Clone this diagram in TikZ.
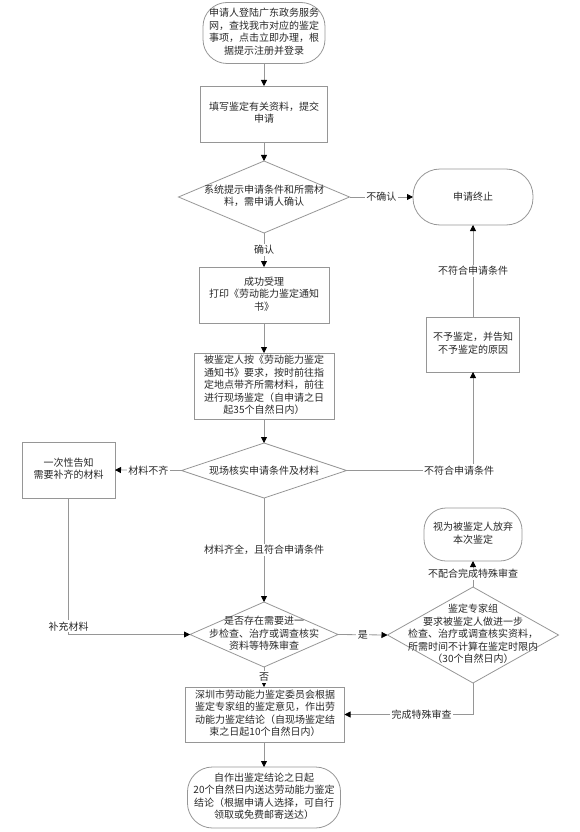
\documentclass[tikz,border=0pt]{standalone}
\usepackage{fontspec}
\setmainfont{Noto Sans CJK SC}
\usepackage{tikz}
\usetikzlibrary{shapes.geometric,arrows.meta}
\usepackage{xcolor}

\definecolor{linegray}{RGB}{150,150,150}
\definecolor{textgray}{RGB}{40,40,40}

\tikzset{
	box/.style={draw=linegray,line width=0.8pt,rectangle,inner sep=0pt,outer sep=0pt,text=textgray},
	term/.style={box,rounded corners=#1},
	term/.default=24pt,
	dia/.style={draw=linegray,line width=0.8pt,diamond,inner sep=0pt,outer sep=0pt},
	dtext/.style={text=textgray,inner sep=0pt},
	arr/.style={draw=linegray,line width=0.8pt,-{Triangle[length=6pt,width=6pt,color=black]}},
	conn/.style={draw=linegray,line width=0.8pt},
	lab/.style={fill=white,inner sep=1.5pt,text=textgray},
	every node/.append style={font=\fontsize{10}{12.5}\selectfont}
}

\begin{document}
\begin{tikzpicture}[x=1pt,y=-1pt]
		\useasboundingbox (0,0) rectangle (580,832);
		
		\node[term,minimum width=121pt,minimum height=61pt] (start) at (264,33){\begin{tabular}{c}申请人登陆广东政务服务\\网，查找我市对应的鉴定\\事项，点击立即办理，根\\据提示注册并登录\end{tabular}};
		
		\node[box,minimum width=127pt,minimum height=56pt] (fill) at (264,114){\begin{tabular}{c}填写鉴定有关资料，提交\\申请\end{tabular}};
		
		\node[dia,minimum width=171pt,minimum height=72pt,label={[dtext]center:{\begin{tabular}{c}系统提示申请条件和所需材\\料，需申请人确认\end{tabular}}}] (check) at (264,197){};
		
		\node[term=27pt,minimum width=120pt,minimum height=56pt] (stop) at (473,197){申请终止};
		
		\node[box,minimum width=130pt,minimum height=56pt] (accept) at (264,295){\begin{tabular}{c}成功受理\\打印《劳动能力鉴定通知\\书》\end{tabular}};
		
		\node[box,minimum width=140pt,minimum height=66pt] (visit) at (264,386){\begin{tabular}{c}被鉴定人按《劳动能力鉴定\\通知书》要求，按时前往指\\定地点带齐所需材料，前往\\进行现场鉴定（自申请之日\\起35个自然日内）\end{tabular}};
		
		\node[box,minimum width=93pt,minimum height=55pt] (refuse) at (473,344.5){\begin{tabular}{c}不予鉴定，并告知\\不予鉴定的原因\end{tabular}};
		
		\node[dia,minimum width=165pt,minimum height=55pt,label={[dtext]center:{现场核实申请条件及材料}}] (site) at (264,470.5){};
		
		\node[box,minimum width=93pt,minimum height=56pt] (notice) at (68.5,470){\begin{tabular}{c}一次性告知\\需要补齐的材料\end{tabular}};
		
		\node[term=22pt,minimum width=98pt,minimum height=53pt] (giveup) at (473,534.5){\begin{tabular}{c}视为被鉴定人放弃\\本次鉴定\end{tabular}};
		
		\node[dia,minimum width=148pt,minimum height=65pt,label={[dtext]center:{\begin{tabular}{c}是否存在需要进一\\步检查、治疗或调查核实\\资料等特殊审查\end{tabular}}}] (special) at (264,634.5){};
		
		\node[dia,minimum width=171pt,minimum height=96pt,label={[dtext]center:{\begin{tabular}{c}鉴定专家组\\要求被鉴定人做进一步\\检查、治疗或调查核实资料，\\所需时间不计算在鉴定时限内\\（30个自然日内）\end{tabular}}}] (expert) at (473,635){};
		
		\node[box,minimum width=159pt,minimum height=55pt] (result) at (265,714.5){\begin{tabular}{c}深圳市劳动能力鉴定委员会根据\\鉴定专家组的鉴定意见，作出劳\\动能力鉴定结论（自现场鉴定结\\束之日起10个自然日内）\end{tabular}};
		
		\node[term=25pt,minimum width=153pt,minimum height=61pt] (deliver) at (264,797.5){\begin{tabular}{c}自作出鉴定结论之日起\\20个自然日内送达劳动能力鉴定\\结论（根据申请人选择，可自行\\领取或免费邮寄送达）\end{tabular}};
		
		\draw[arr] (start) -- (fill);
		\draw[arr] (fill) -- (check);
		\draw[arr] (check.east) -- node[lab]{不确认} (stop.west);
		\draw[arr] (check.south) -- node[lab]{确认} (accept.north);
		\draw[arr] (accept) -- (visit);
		\draw[arr] (visit.south) -- (site.north);
		\draw[arr] (refuse.north) -- node[lab]{不符合申请条件} (stop.south);
		\draw[arr] (site.east) -| node[lab,pos=0.5,xshift=-14pt]{不符合申请条件} (refuse.south);
		\draw[arr] (site.west) -- node[lab]{材料不齐} (notice.east);
		\draw[arr] (site.south) -- node[lab]{材料齐全，且符合申请条件} (special.north);
		\draw[arr] (notice.south) |- node[lab,pos=0.47]{补充材料} (special.west);
		\draw[arr] (special.east) -- node[lab]{是} (expert.west);
		\draw[arr] (expert.north) -- node[lab]{不配合完成特殊审查} (giveup.south);
		\draw[arr] (special.south) -- node[lab]{否} (special.south |- result.north);
		\draw[arr] (expert.south) |- node[lab,pos=0.7]{完成特殊审查} (result.east);
		\draw[arr] (result.south -| deliver.north) -- (deliver.north);
	\end{tikzpicture}
\end{document}
